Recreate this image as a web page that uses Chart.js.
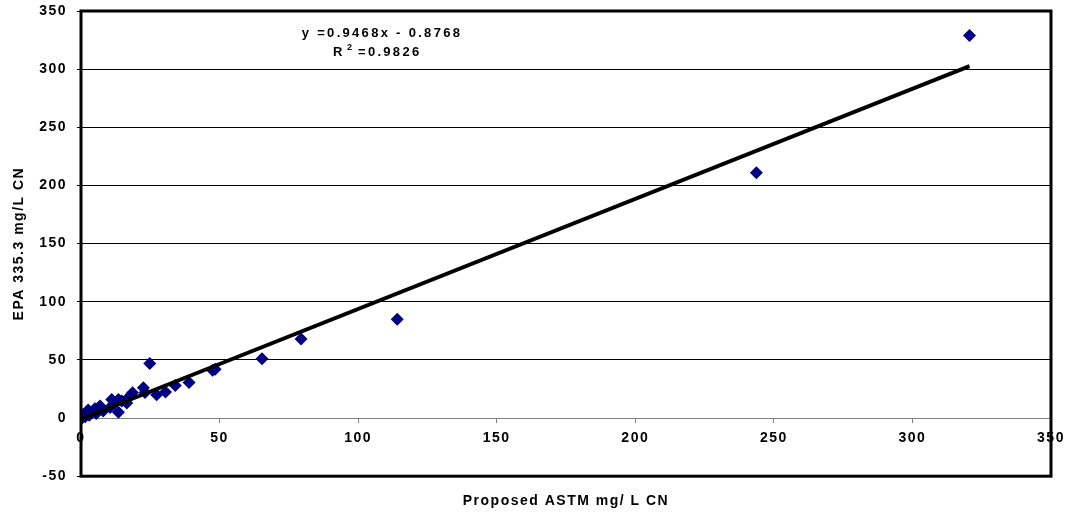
<!DOCTYPE html>
<html>
<head>
<meta charset="utf-8">
<script src="https://cdn.jsdelivr.net/npm/chart.js@4.4.0/dist/chart.umd.min.js"></script>
<style>
  html, body { margin: 0; padding: 0; background: #fff; }
  #wrap { width: 1065px; height: 516px; }
</style>
</head>
<body>
<div id="wrap"><canvas id="myChart"></canvas></div>
<script>
// data
var astmValues = [320.6, 243.7, 114.1, 79.4, 65.3, 48.4, 47.5, 24.8, 39.0, 34.0, 30.5, 27.3, 22.5, 23.1, 18.6,
  17.0, 16.5, 14.7, 13.5, 13.5, 11.1, 11.7, 10.5, 8.0, 6.9, 6.3, 5.0, 5.5, 3.9, 3.0, 2.6, 2.0, 1.5, 1.0, 0.8, 0.5, 0.3];
var epaValues = [329, 211, 85, 68, 51, 42, 41, 47, 30.5, 28, 22.5, 20, 26, 22, 21.8,
  17.5, 13, 14.7, 16, 5, 16, 11.8, 9, 6, 10.3, 8.9, 8, 4, 4.6, 2.5, 7, 5, 1.2, 2, 3, 0.2, 1];

// trend line (from the equation printed on the chart)
var trendSlope = 0.9468;
var trendIntercept = -0.8768;
var trendRange = [0.3, 320.6];
var equationText = 'y =0.9468x - 0.8768';
var r2Text = '=0.9826';

var yTicks = [-50, 0, 50, 100, 150, 200, 250, 300, 350];
var xTicks = [0, 50, 100, 150, 200, 250, 300, 350];

var xTitle = 'Proposed ASTM mg/ L CN';
var yTitle = 'EPA 335.3 mg/L CN';

var pts = astmValues.map(function (x, i) { return { x: x, y: epaValues[i] }; });
var trendPts = trendRange.map(function (x) { return { x: x, y: trendSlope * x + trendIntercept }; });

var fontFam = '"Liberation Sans", Arial, sans-serif';

// letter spacing like the old excel picture
var spacingPlugin = {
  id: 'spacing',
  beforeLayout: function (chart) { chart.ctx.letterSpacing = '1.5px'; },
  beforeDraw: function (chart) { chart.ctx.letterSpacing = '1.5px'; }
};

// thick frame round the plot + the equation text
var framePlugin = {
  id: 'frame',
  afterDatasetsDraw: function (chart) {
    var c = chart.ctx, a = chart.chartArea;
    c.save();
    c.letterSpacing = '2.3px';
    c.fillStyle = '#000';
    c.font = 'bold 13px ' + fontFam;
    c.textAlign = 'center';
    c.textBaseline = 'middle';
    c.fillText(equationText, a.left + 301, a.top + 22);
    c.textAlign = 'left';
    c.fillText('R', a.left + 252, a.top + 41);
    c.fillText(r2Text, a.left + 277, a.top + 41);
    c.font = 'bold 9px ' + fontFam;
    c.fillText('2', a.left + 266, a.top + 37);
    c.restore();
  },
  afterDraw: function (chart) {
    var c = chart.ctx, a = chart.chartArea;
    c.save();
    c.strokeStyle = '#000';
    c.lineWidth = 3;
    c.strokeRect(a.left, a.top, a.right - a.left, a.bottom - a.top);
    c.restore();
  }
};

var ctx = document.getElementById('myChart').getContext('2d');
var myChart = new Chart(ctx, {
  type: 'scatter',
  data: {
    datasets: [
      {
        label: 'trend',
        type: 'line',
        data: trendPts,
        borderColor: '#000',
        borderWidth: 4,
        pointRadius: 0,
        fill: false,
        order: 0
      },
      {
        label: 'samples',
        data: pts,
        pointStyle: 'rectRot',
        pointRadius: 6.5,
        backgroundColor: '#000080',
        borderColor: '#000080',
        borderWidth: 0,
        order: 1
      }
    ]
  },
  options: {
    responsive: true,
    maintainAspectRatio: false,
    animation: false,
    layout: { autoPadding: false, padding: { left: 0, right: 14, top: 11, bottom: 0 } },
    plugins: {
      legend: { display: false },
      tooltip: { enabled: false },
      title: {
        display: true,
        position: 'bottom',
        fullSize: false,
        text: xTitle,
        color: '#000',
        font: { family: fontFam, size: 14, weight: 'bold' },
        padding: { top: 17, bottom: 6 }
      }
    },
    scales: {
      x: {
        type: 'linear',
        position: { y: 0 },
        min: 0,
        max: 350,
        afterBuildTicks: function (s) { s.ticks = xTicks.map(function (v) { return { value: v }; }); },
        afterFit: function (s) { s.paddingLeft = 0; s.paddingRight = 0; },
        ticks: {
          color: '#000',
          font: { family: fontFam, size: 14, weight: 'bold' },
          padding: 8,
          maxRotation: 0
        },
        grid: { drawOnChartArea: false, drawTicks: true, tickLength: 4, color: '#808080' },
        border: { display: true, color: '#808080', width: 1 }
      },
      y: {
        type: 'linear',
        min: -50,
        max: 350,
        afterBuildTicks: function (s) { s.ticks = yTicks.map(function (v) { return { value: v }; }); },
        afterFit: function (s) { s.width = 81; s.paddingTop = 0; s.paddingBottom = 0; },
        ticks: {
          color: '#000',
          font: { family: fontFam, size: 14, weight: 'bold' },
          padding: 10
        },
        grid: {
          color: function (c) { return c.tick && c.tick.value === 0 ? 'rgba(0,0,0,0)' : '#000'; },
          lineWidth: 1,
          tickLength: 4
        },
        border: { display: false },
        title: {
          display: true,
          text: yTitle,
          color: '#000',
          font: { family: fontFam, size: 14, weight: 'bold' },
          padding: { top: 11, bottom: 0 }
        }
      }
    }
  },
  plugins: [spacingPlugin, framePlugin]
});
</script>
</body>
</html>
